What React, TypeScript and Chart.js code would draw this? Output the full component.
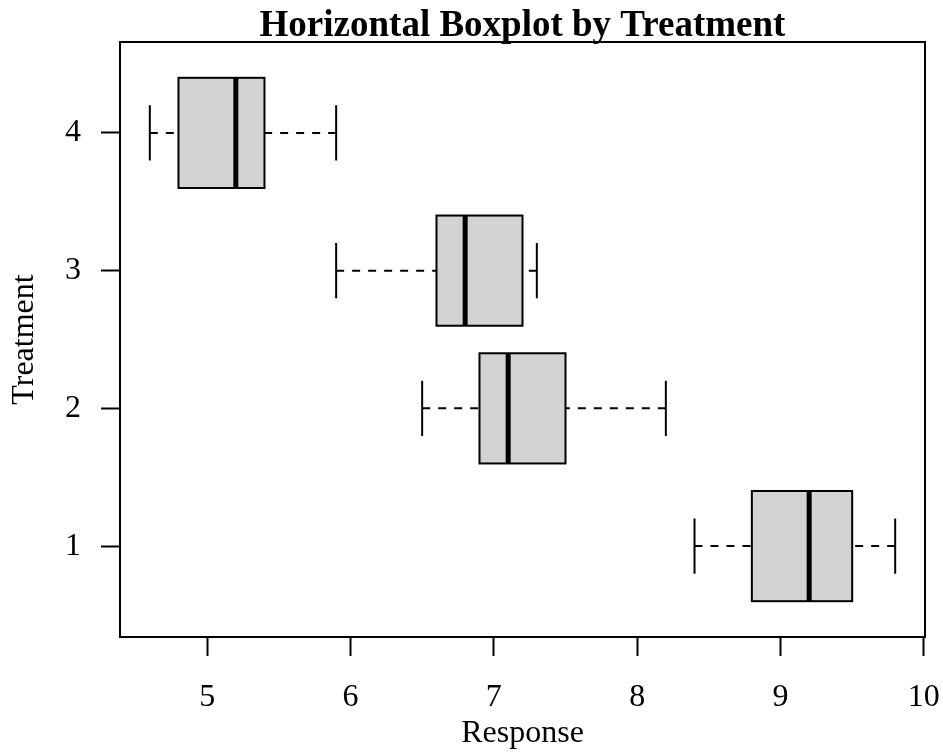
import React, { useEffect, useRef } from "react";
import { Chart, registerables } from "chart.js";

Chart.register(...registerables);

const treatments = [1, 2, 3, 4];
const lowerWhisker = [8.4, 6.5, 5.9, 4.6];
const q1 = [8.8, 6.9, 6.6, 4.8];
const median = [9.2, 7.1, 6.8, 5.2];
const q3 = [9.5, 7.5, 7.2, 5.4];
const upperWhisker = [9.8, 8.2, 7.3, 5.9];
const xTicks = [5, 6, 7, 8, 9, 10];
const yTicks = [1, 2, 3, 4];
const chartTitle = "Horizontal Boxplot by Treatment";

const FONT = "'Liberation Serif', 'Times New Roman', serif";

const boxplotPlugin = {
  id: "boxplotParts",
  beforeDatasetsDraw(chart: any) {
    const { ctx, scales } = chart;
    const x = scales.x;
    const y = scales.y;
    ctx.save();
    ctx.strokeStyle = "#000";
    ctx.lineWidth = 2;
    treatments.forEach((t, i) => {
      const yc = y.getPixelForValue(t);
      const capTop = y.getPixelForValue(t + 0.2);
      const capBot = y.getPixelForValue(t - 0.2);
      ctx.setLineDash([8, 8]);
      ctx.beginPath();
      ctx.moveTo(x.getPixelForValue(lowerWhisker[i]), yc);
      ctx.lineTo(x.getPixelForValue(q1[i]), yc);
      ctx.moveTo(x.getPixelForValue(upperWhisker[i]), yc);
      ctx.lineTo(x.getPixelForValue(q3[i]), yc);
      ctx.stroke();
      ctx.setLineDash([]);
      ctx.beginPath();
      [lowerWhisker[i], upperWhisker[i]].forEach((v) => {
        const px = x.getPixelForValue(v);
        ctx.moveTo(px, capTop);
        ctx.lineTo(px, capBot);
      });
      ctx.stroke();
    });
    ctx.restore();
  },
  afterDatasetsDraw(chart: any) {
    const { ctx, scales, chartArea } = chart;
    const x = scales.x;
    const y = scales.y;
    ctx.save();
    ctx.strokeStyle = "#000";
    ctx.lineWidth = 2;
    treatments.forEach((t, i) => {
      const x0 = x.getPixelForValue(q1[i]);
      const x1 = x.getPixelForValue(q3[i]);
      const y0 = y.getPixelForValue(t + 0.4);
      const y1 = y.getPixelForValue(t - 0.4);
      ctx.strokeRect(x0, y0, x1 - x0, y1 - y0);
    });
    ctx.lineWidth = 5;
    ctx.lineCap = "butt";
    treatments.forEach((t, i) => {
      const px = x.getPixelForValue(median[i]);
      ctx.beginPath();
      ctx.moveTo(px, y.getPixelForValue(t + 0.4));
      ctx.lineTo(px, y.getPixelForValue(t - 0.4));
      ctx.stroke();
    });
    ctx.lineWidth = 2;
    ctx.strokeRect(
      chartArea.left,
      chartArea.top,
      chartArea.right - chartArea.left,
      chartArea.bottom - chartArea.top
    );
    ctx.fillStyle = "#000";
    ctx.font = `bold 37px ${FONT}`;
    ctx.textAlign = "center";
    ctx.textBaseline = "alphabetic";
    ctx.fillText(chartTitle, (chartArea.left + chartArea.right) / 2, 35.5);
    ctx.restore();
  },
};

export default function App() {
  const ref = useRef<HTMLCanvasElement | null>(null);

  useEffect(() => {
    document.body.style.margin = "0";
    const canvas = ref.current;
    if (!canvas) return;
    const chart = new Chart(canvas, {
      type: "bar",
      data: {
        datasets: [
          {
            label: "Treatment",
            data: treatments.map((t, i) => ({ x: [q1[i], q3[i]], y: t })) as any,
            backgroundColor: "#d3d3d3",
            borderWidth: 0,
            barPercentage: 0.8,
            categoryPercentage: 1,
          },
        ],
      },
      options: {
        indexAxis: "y",
        responsive: false,
        animation: false,
        layout: { padding: { right: 18, top: 42, bottom: 0, left: 0 } },
        plugins: {
          legend: { display: false },
          tooltip: { enabled: false },
          title: { display: false },
        },
        scales: {
          x: {
            type: "linear",
            min: 4.392,
            max: 10.008,
            afterBuildTicks: (axis: any) => {
              axis.ticks = xTicks.map((v) => ({ value: v }));
            },
            afterFit: (axis: any) => {
              axis.height = 116;
              axis.paddingLeft = 0;
              axis.paddingRight = 0;
            },
            grid: {
              drawOnChartArea: false,
              drawTicks: true,
              tickLength: 19,
              tickWidth: 2,
              tickColor: "#000",
            },
            border: { display: false },
            ticks: {
              color: "#000",
              font: { family: FONT, size: 32 },
              padding: 22,
              maxRotation: 0,
              autoSkip: false,
            },
            title: {
              display: true,
              text: "Response",
              color: "#000",
              font: { family: FONT, size: 32 },
              padding: { top: 0, bottom: 0 },
            },
          },
          y: {
            type: "linear",
            offset: false,
            min: 0.34,
            max: 4.66,
            afterBuildTicks: (axis: any) => {
              axis.ticks = yTicks.map((v) => ({ value: v }));
            },
            afterFit: (axis: any) => {
              axis.width = 120;
              axis.paddingTop = 0;
              axis.paddingBottom = 0;
            },
            grid: {
              offset: false,
              drawOnChartArea: false,
              drawTicks: true,
              tickLength: 19,
              tickWidth: 2,
              tickColor: "#000",
            },
            border: { display: false },
            ticks: {
              color: "#000",
              font: { family: FONT, size: 32 },
              padding: 20,
              autoSkip: false,
            },
            title: {
              display: true,
              text: "Treatment",
              color: "#000",
              font: { family: FONT, size: 32 },
              padding: { top: 5, bottom: 0 },
            },
          },
        },
      },
      plugins: [boxplotPlugin],
    });
    return () => chart.destroy();
  }, []);

  return (
    <div style={{ width: 943, height: 753 }}>
      <canvas ref={ref} width={943} height={753} style={{ display: "block" }} />
    </div>
  );
}
